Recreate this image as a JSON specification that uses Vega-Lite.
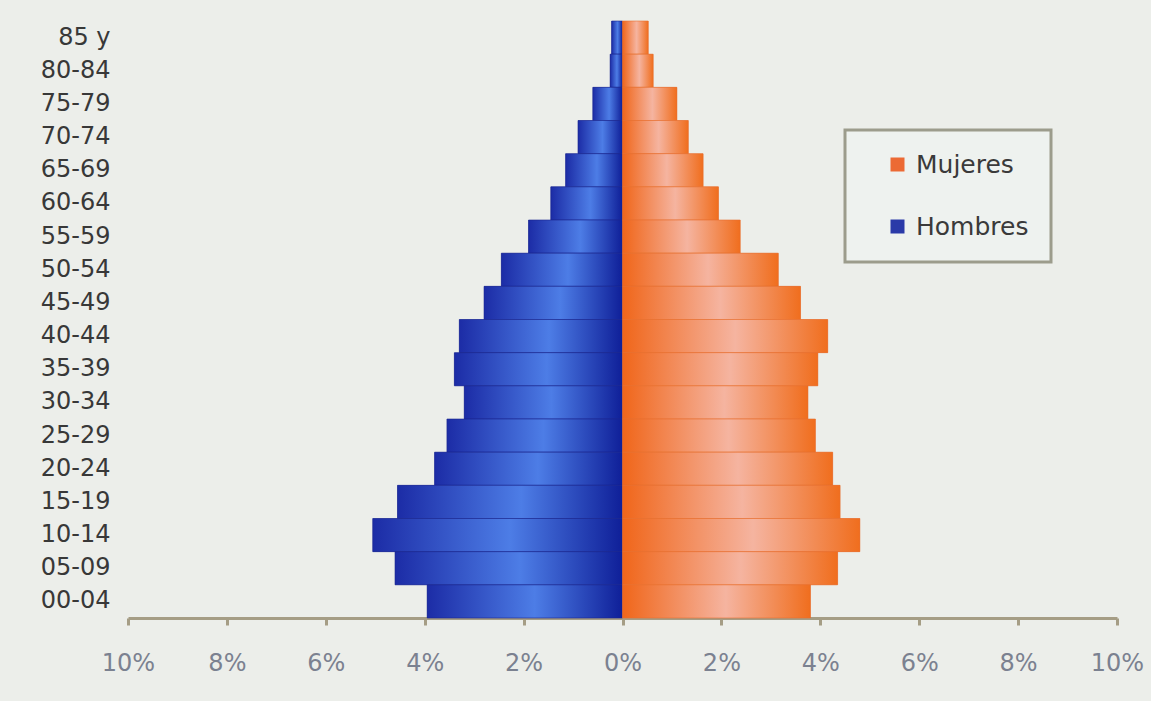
{
  "$schema": "https://vega.github.io/schema/vega-lite/v6.json",
  "autosize": "none",
  "width": 989,
  "height": 597,
  "padding": {"left": 128, "top": 21, "right": 34, "bottom": 83},
  "background": "#eceeea",
  "config": {
    "view": {"stroke": null},
    "font": "DejaVu Sans"
  },
  "data": {
    "values": [
      {"age": "85 y", "sex": "Hombres", "value": -0.22},
      {"age": "80-84", "sex": "Hombres", "value": -0.25},
      {"age": "75-79", "sex": "Hombres", "value": -0.6},
      {"age": "70-74", "sex": "Hombres", "value": -0.9},
      {"age": "65-69", "sex": "Hombres", "value": -1.15},
      {"age": "60-64", "sex": "Hombres", "value": -1.45},
      {"age": "55-59", "sex": "Hombres", "value": -1.9},
      {"age": "50-54", "sex": "Hombres", "value": -2.45},
      {"age": "45-49", "sex": "Hombres", "value": -2.8},
      {"age": "40-44", "sex": "Hombres", "value": -3.3},
      {"age": "35-39", "sex": "Hombres", "value": -3.4},
      {"age": "30-34", "sex": "Hombres", "value": -3.2},
      {"age": "25-29", "sex": "Hombres", "value": -3.55},
      {"age": "20-24", "sex": "Hombres", "value": -3.8},
      {"age": "15-19", "sex": "Hombres", "value": -4.55},
      {"age": "10-14", "sex": "Hombres", "value": -5.05},
      {"age": "05-09", "sex": "Hombres", "value": -4.6},
      {"age": "00-04", "sex": "Hombres", "value": -3.95},
      {"age": "85 y", "sex": "Mujeres", "value": 0.52},
      {"age": "80-84", "sex": "Mujeres", "value": 0.62},
      {"age": "75-79", "sex": "Mujeres", "value": 1.1},
      {"age": "70-74", "sex": "Mujeres", "value": 1.33},
      {"age": "65-69", "sex": "Mujeres", "value": 1.63},
      {"age": "60-64", "sex": "Mujeres", "value": 1.94},
      {"age": "55-59", "sex": "Mujeres", "value": 2.38},
      {"age": "50-54", "sex": "Mujeres", "value": 3.15},
      {"age": "45-49", "sex": "Mujeres", "value": 3.6},
      {"age": "40-44", "sex": "Mujeres", "value": 4.15},
      {"age": "35-39", "sex": "Mujeres", "value": 3.95},
      {"age": "30-34", "sex": "Mujeres", "value": 3.75},
      {"age": "25-29", "sex": "Mujeres", "value": 3.9},
      {"age": "20-24", "sex": "Mujeres", "value": 4.25},
      {"age": "15-19", "sex": "Mujeres", "value": 4.4},
      {"age": "10-14", "sex": "Mujeres", "value": 4.8},
      {"age": "05-09", "sex": "Mujeres", "value": 4.35},
      {"age": "00-04", "sex": "Mujeres", "value": 3.8}
    ]
  },
  "encoding": {
    "y": {
      "field": "age",
      "type": "nominal",
      "sort": ["85 y","80-84","75-79","70-74","65-69","60-64","55-59","50-54","45-49","40-44","35-39","30-34","25-29","20-24","15-19","10-14","05-09","00-04"],
      "scale": {"paddingInner": 0, "paddingOuter": 0},
      "axis": {
        "title": null,
        "domain": false,
        "ticks": false,
        "labelPadding": 18,
        "labelFontSize": 24,
        "labelColor": "#383838"
      }
    },
    "x": {
      "field": "value",
      "type": "quantitative",
      "scale": {"domain": [-10, 10], "nice": false},
      "axis": {
        "title": null,
        "grid": false,
        "values": [-10, -8, -6, -4, -2, 0, 2, 4, 6, 8, 10],
        "labelExpr": "abs(datum.value) + '%'",
        "labelFlush": false,
        "labelOverlap": false,
        "labelBound": false,
        "domainColor": "#a59d85",
        "domainWidth": 3,
        "tickColor": "#a59d85",
        "tickWidth": 3,
        "tickSize": 7,
        "labelPadding": 26,
        "labelFontSize": 24,
        "labelColor": "#7b8190"
      }
    }
  },
  "layer": [
    {
      "mark": {"type": "bar"},
      "encoding": {
        "color": {
          "field": "sex",
          "type": "nominal",
          "scale": {"domain": ["Mujeres", "Hombres"], "range": ["#ec6a34", "#2a3aa8"]},
          "legend": {
            "title": null,
            "orient": "none",
            "legendX": 717,
            "legendY": 109,
            "direction": "vertical",
            "fillColor": "#eef2ef",
            "strokeColor": "#9c9c8c",
            "padding": 22,
            "symbolType": "square",
            "symbolSize": 196,
            "symbolOffset": 18,
            "labelOffset": 6,
            "labelFontSize": 25,
            "labelColor": "#3a3a3a",
            "rowPadding": 36,
            "encode": {"legend": {"update": {"strokeWidth": {"value": 3}}}}
          }
        }
      }
    },
    {
      "transform": [{"filter": "datum.sex === 'Hombres'"}],
      "mark": {
        "type": "bar",
        "stroke": "#1a2790",
        "strokeWidth": 1,
        "strokeOpacity": 0.6,
        "fill": {
          "gradient": "linear",
          "x1": 0, "y1": 0, "x2": 1, "y2": 0,
          "stops": [
            {"offset": 0, "color": "#1c2ca6"},
            {"offset": 0.55, "color": "#4d7de6"},
            {"offset": 1, "color": "#0f1f98"}
          ]
        }
      },
      "encoding": {}
    },
    {
      "transform": [{"filter": "datum.sex === 'Mujeres'"}],
      "mark": {
        "type": "bar",
        "stroke": "#e8702e",
        "strokeWidth": 1,
        "strokeOpacity": 0.6,
        "fill": {
          "gradient": "linear",
          "x1": 0, "y1": 0, "x2": 1, "y2": 0,
          "stops": [
            {"offset": 0, "color": "#f0661a"},
            {"offset": 0.55, "color": "#f5b4a0"},
            {"offset": 1, "color": "#f06e1e"}
          ]
        }
      },
      "encoding": {}
    }
  ]
}
